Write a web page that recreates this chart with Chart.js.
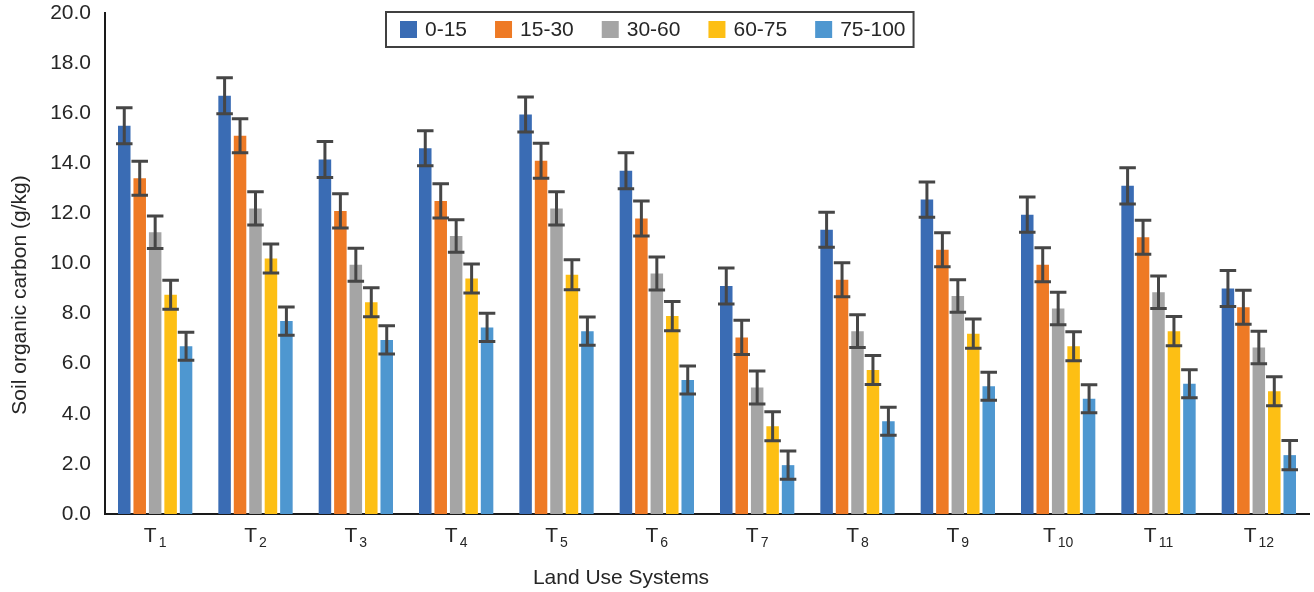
<!DOCTYPE html>
<html>
<head>
<meta charset="utf-8">
<script src="https://cdn.jsdelivr.net/npm/chart.js@4.4.1/dist/chart.umd.min.js"></script>
<style>
  html, body { margin: 0; padding: 0; background: #fff; }
  #wrap { width: 1314px; height: 592px; }
</style>
</head>
<body>
<div id="wrap"><canvas id="soc" width="1314" height="592"></canvas></div>
<script>
// Land use systems (T + subscript number)
const systems = ["T1", "T2", "T3", "T4", "T5", "T6", "T7", "T8", "T9", "T10", "T11", "T12"];
const depths = ["0-15", "15-30", "30-60", "60-75", "75-100"];

// Soil organic carbon (g/kg) per depth
const soc0_15 = [15.5, 16.7, 14.15, 14.6, 15.95, 13.7, 9.1, 11.35, 12.55, 11.95, 13.1, 9.0];
const soc15_30 = [13.4, 15.1, 12.1, 12.5, 14.1, 11.8, 7.05, 9.35, 10.55, 9.95, 11.05, 8.25];
const soc30_60 = [11.25, 12.2, 9.95, 11.1, 12.2, 9.6, 5.05, 7.3, 8.7, 8.2, 8.85, 6.65];
const soc60_75 = [8.75, 10.2, 8.45, 9.4, 9.55, 7.9, 3.5, 5.75, 7.2, 6.7, 7.3, 4.9];
const soc75_100 = [6.7, 7.7, 6.95, 7.45, 7.3, 5.35, 1.95, 3.7, 5.1, 4.6, 5.2, 2.35];

// error bar half-lengths
const err0_15 = [0.72, 0.72, 0.72, 0.7, 0.7, 0.72, 0.72, 0.7, 0.7, 0.7, 0.72, 0.72];
const err15_30 = [0.68, 0.68, 0.68, 0.68, 0.7, 0.7, 0.68, 0.68, 0.68, 0.68, 0.68, 0.68];
const err30_60 = [0.65, 0.66, 0.66, 0.65, 0.66, 0.66, 0.66, 0.65, 0.65, 0.65, 0.65, 0.65];
const err60_75 = [0.58, 0.58, 0.58, 0.58, 0.6, 0.58, 0.58, 0.58, 0.58, 0.58, 0.58, 0.58];
const err75_100 = [0.56, 0.56, 0.56, 0.56, 0.56, 0.56, 0.56, 0.56, 0.56, 0.56, 0.56, 0.58];

const yTicks = [0, 2, 4, 6, 8, 10, 12, 14, 16, 18, 20];

const colors = ["#3A6CB4", "#EE7A25", "#A5A5A5", "#FDBF14", "#4E97D0"];
const FONT = "'Liberation Sans', Arial, sans-serif";
const TEXT = "#262626";

// error bars on every bar
const errorBars = {
  id: "errorBars",
  afterDatasetsDraw(chart) {
    const ctx = chart.ctx;
    const y = chart.scales.y;
    ctx.save();
    ctx.strokeStyle = "#464646";
    ctx.lineWidth = 3;
    chart.data.datasets.forEach((ds, di) => {
      const meta = chart.getDatasetMeta(di);
      meta.data.forEach((bar, i) => {
        const v = ds.data[i], e = ds.errors[i];
        const top = y.getPixelForValue(v + e);
        const bot = y.getPixelForValue(v - e);
        const half = bar.width / 2 + 2;
        ctx.beginPath();
        ctx.moveTo(bar.x, top); ctx.lineTo(bar.x, bot);
        ctx.moveTo(bar.x - half, top); ctx.lineTo(bar.x + half, top);
        ctx.moveTo(bar.x - half, bot); ctx.lineTo(bar.x + half, bot);
        ctx.stroke();
      });
    });
    ctx.restore();
  }
};

// x labels with subscripts, axis titles and the boxed legend
const extras = {
  id: "extras",
  afterDraw(chart) {
    const ctx = chart.ctx;
    const x = chart.scales.x;
    ctx.save();
    ctx.fillStyle = TEXT;

    // T with subscript number
    ctx.textBaseline = "alphabetic";
    ctx.textAlign = "left";
    systems.forEach((lab, i) => {
      const main = lab.charAt(0), sub = lab.slice(1);
      ctx.font = "21px " + FONT;
      const wm = ctx.measureText(main).width;
      ctx.font = "14px " + FONT;
      const ws = ctx.measureText(sub).width;
      const cx = x.getPixelForValue(i);
      const sx = cx - (wm + 2 + ws) / 2;
      ctx.font = "21px " + FONT;
      ctx.fillText(main, sx, 542);
      ctx.font = "14px " + FONT;
      ctx.fillText(sub, sx + wm + 2, 547);
    });

    // axis titles
    ctx.font = "21px " + FONT;
    ctx.textAlign = "center";
    ctx.textBaseline = "middle";
    ctx.fillText("Land Use Systems", 621, 578);
    ctx.save();
    ctx.translate(20, 295);
    ctx.rotate(-Math.PI / 2);
    ctx.fillText("Soil organic carbon (g/kg)", 0, 0);
    ctx.restore();

    // legend
    const box = 17, textGap = 25, itemGap = 28, padL = 14, padR = 8;
    ctx.font = "21px " + FONT;
    const widths = depths.map(d => ctx.measureText(d).width);
    let total = padL + padR;
    widths.forEach((w, i) => { total += textGap + w + (i < widths.length - 1 ? itemGap : 0); });
    const left = Math.round(650 - total / 2);
    const top = 12, h = 35;
    ctx.fillStyle = "#fff";
    ctx.fillRect(left, top, total, h);
    ctx.strokeStyle = "#404040";
    ctx.lineWidth = 2;
    ctx.strokeRect(left, top, total, h);
    let px = left + padL;
    ctx.textAlign = "left";
    depths.forEach((d, i) => {
      ctx.fillStyle = colors[i];
      ctx.fillRect(px, 21, box, box);
      ctx.fillStyle = TEXT;
      ctx.fillText(d, px + textGap, 30);
      px += textGap + widths[i] + itemGap;
    });
    ctx.restore();
  }
};

const seriesValues = [soc0_15, soc15_30, soc30_60, soc60_75, soc75_100];
const seriesErrors = [err0_15, err15_30, err30_60, err60_75, err75_100];

const ctx = document.getElementById("soc").getContext("2d");
new Chart(ctx, {
  type: "bar",
  data: {
    labels: systems,
    datasets: depths.map((d, i) => ({
      label: d,
      data: seriesValues[i],
      errors: seriesErrors[i],
      backgroundColor: colors[i],
      borderWidth: 0,
      categoryPercentage: 0.77,
      barPercentage: 0.81,
    })),
  },
  options: {
    responsive: false,
    animation: false,
    devicePixelRatio: 1,
    layout: { padding: { top: 13, right: 5, left: 0, bottom: 0 } },
    scales: {
      x: {
        grid: { display: false, drawTicks: false },
        border: { display: true, color: "#1a1a1a", width: 2 },
        ticks: { display: false },
        afterFit(scale) { scale.height = 78; },
      },
      y: {
        min: 0,
        max: 20,
        afterBuildTicks(scale) { scale.ticks = yTicks.map(v => ({ value: v })); },
        grid: { display: false, drawTicks: false },
        border: { display: true, color: "#1a1a1a", width: 2 },
        ticks: {
          padding: 14,
          color: TEXT,
          font: { family: FONT, size: 21 },
          callback: v => Number(v).toFixed(1),
        },
        afterFit(scale) {
          scale.width = 105;
          scale.paddingTop = 0;
          scale.paddingBottom = 0;
        },
      },
    },
    plugins: {
      legend: { display: false },
      tooltip: { enabled: false },
    },
  },
  plugins: [errorBars, extras],
});
</script>
</body>
</html>
